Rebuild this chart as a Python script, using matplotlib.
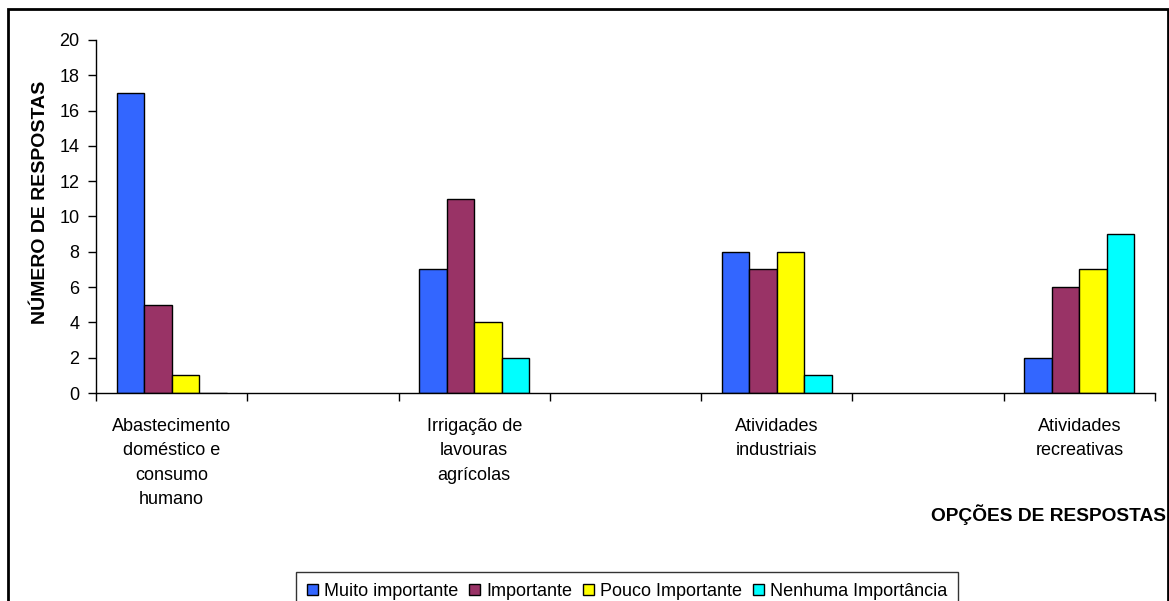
import matplotlib
matplotlib.use("Agg")
import matplotlib.pyplot as plt
from matplotlib.patches import Rectangle
import numpy as np

plt.rcParams['font.family'] = ['Liberation Sans', 'DejaVu Sans']

# data
categories = ["Abastecimento\ndoméstico e\nconsumo\nhumano",
              "Irrigação de\nlavouras\nagrícolas",
              "Atividades\nindustriais",
              "Atividades\nrecreativas"]
series = ["Muito importante", "Importante", "Pouco Importante", "Nenhuma Importância"]
muito = [17, 7, 8, 2]
importante = [5, 11, 7, 6]
pouco = [1, 4, 8, 7]
nenhuma = [0, 2, 1, 9]
colors = ["#3366FF", "#993366", "#FFFF00", "#00FFFF"]

values = [muito, importante, pouco, nenhuma]

fig = plt.figure(figsize=(11.69, 6.01), dpi=100)
ax = fig.add_axes([96 / 1169, 1 - 393 / 601, (1155 - 96) / 1169, (393 - 40) / 601])

# Excel layout: a blank category between each labelled one
pos = np.arange(len(categories)) * 2
w = 1 / 5.5
for j, (name, vals, c) in enumerate(zip(series, values, colors)):
    ax.bar(pos + (j - 1.5) * w, vals, width=w, color=c, edgecolor='black',
           linewidth=1, label=name)

ax.set_xlim(-0.5, 2 * len(categories) - 1.5)
ax.set_ylim(0, 20)
ax.set_yticks(np.arange(0, 21, 2))
ax.set_xticks(np.arange(-0.5, 2 * len(categories) - 1, 1))
ax.set_xticklabels([])
ax.set_xticks(pos, minor=True)
ax.set_xticklabels(categories, minor=True, fontsize=13, linespacing=1.57, va='top')
ax.tick_params(axis='x', which='minor', length=0, pad=18)
ax.tick_params(axis='x', which='major', length=6, width=1, direction='out')
ax.tick_params(axis='y', length=6, width=1, labelsize=13, pad=6)
for s in ['top', 'right']:
    ax.spines[s].set_visible(False)
for s in ['left', 'bottom']:
    ax.spines[s].set_linewidth(1)

fig.text(41 / 1169, 1 - 202 / 601, "NÚMERO DE RESPOSTAS", rotation=90,
         ha='center', va='center', fontsize=14, fontweight='bold')
fig.text(1166 / 1169, 1 - 515 / 601, "OPÇÕES DE RESPOSTAS",
         ha='right', va='center', fontsize=13.8, fontweight='bold')

leg = fig.legend(loc='upper left', bbox_to_anchor=(296 / 1169, 1 - 572 / 601),
                 ncol=4, fontsize=13, frameon=True, fancybox=False,
                 handlelength=0.6, handleheight=0.6, handletextpad=0.35,
                 columnspacing=0.6, borderpad=0.6, borderaxespad=0)
leg.get_frame().set_edgecolor('black')
leg.get_frame().set_linewidth(1)

# outer chart border
fig.patches.append(Rectangle((8 / 1169, -0.05), 1160 / 1169, 1.05 - 9 / 601,
                             transform=fig.transFigure, fill=False,
                             edgecolor='black', linewidth=2))

fig.savefig("out.png", dpi=100)
